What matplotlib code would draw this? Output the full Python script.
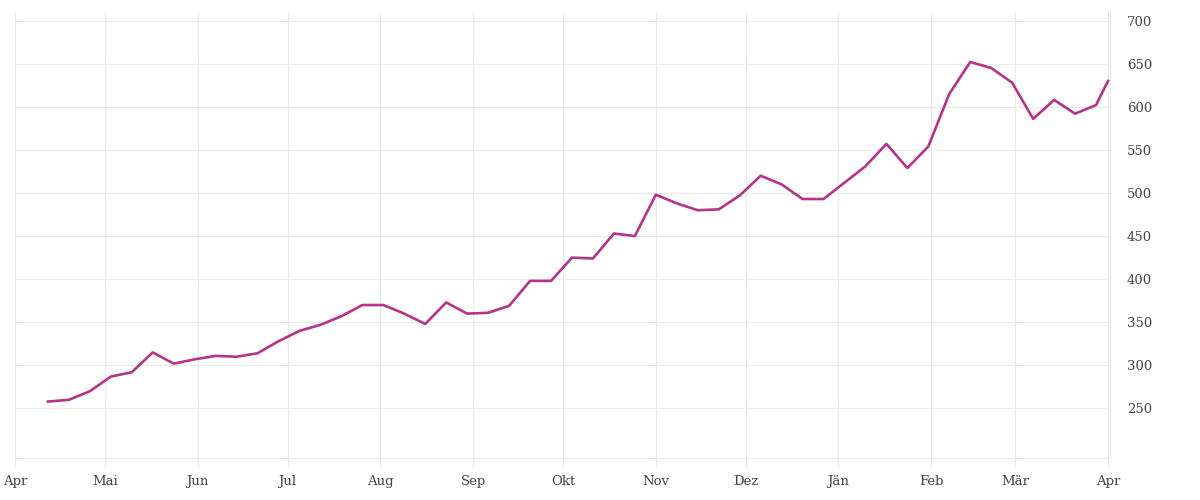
import matplotlib

matplotlib.use("Agg")
import matplotlib.pyplot as plt
import pandas as pd

# weekly values, last point is the partial week ending Apr 1
week_start = "2022-04-12"
values = [
    258, 260, 270, 287, 292, 315, 302, 307, 311, 310,
    314, 328, 340, 347, 357, 370, 370, 360, 348, 373,
    360, 361, 369, 398, 398, 425, 424, 453, 450, 498,
    488, 480, 481, 497, 520, 510, 493, 493, 512, 531,
    557, 529, 554, 615, 652, 645, 628, 586, 608, 592,
    602,
]
last_date = "2023-04-01"
last_value = 630

month_starts = pd.date_range("2022-04-01", "2023-04-01", freq="MS")
month_labels = ["Apr", "Mai", "Jun", "Jul", "Aug", "Sep", "Okt", "Nov",
                "Dez", "Jän", "Feb", "Mär", "Apr"]
y_ticks = [250, 300, 350, 400, 450, 500, 550, 600, 650, 700]

dates = list(pd.date_range(week_start, periods=len(values), freq="7D"))
dates.append(pd.Timestamp(last_date))
series = values + [last_value]

grid_color = "#ebebeb"
text_color = "#444444"

fig = plt.figure(figsize=(12, 5), dpi=100)
ax = fig.add_axes([0.0125, 0.084, 0.9125, 0.892])

ax.plot(dates, series, color="#b5338a", linewidth=1.9)

ax.set_xlim(pd.Timestamp("2022-04-01"), pd.Timestamp("2023-04-01") + pd.Timedelta(hours=16))
ax.set_ylim(192.5, 710)

ax.set_xticks(month_starts)
ax.set_xticklabels(month_labels)
ax.set_yticks(y_ticks)
ax.set_yticklabels([str(v) for v in y_ticks])

ax.yaxis.tick_right()
ax.grid(True, color=grid_color, linewidth=0.8)
ax.set_axisbelow(True)

for side in ["top", "left"]:
    ax.spines[side].set_visible(False)
for side in ["bottom", "right"]:
    ax.spines[side].set_color(grid_color)
    ax.spines[side].set_linewidth(0.8)

ax.tick_params(axis="x", length=7.5, width=0.8, color=grid_color, pad=5,
               labelsize=9.5, labelcolor=text_color)
ax.tick_params(axis="y", length=0, pad=12, labelsize=9.5, labelcolor=text_color)
for label in ax.get_xticklabels() + ax.get_yticklabels():
    label.set_family("DejaVu Serif")

fig.savefig("out.png", dpi=100)
plt.close(fig)
